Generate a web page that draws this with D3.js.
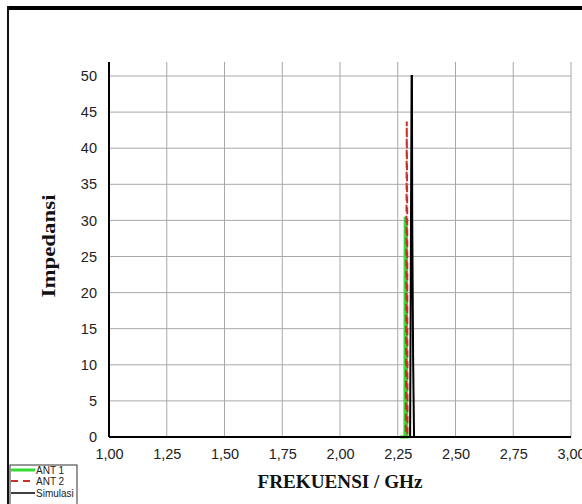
<!DOCTYPE html>
<html>
<head>
<meta charset="utf-8">
<script src="https://cdn.jsdelivr.net/npm/d3@7"></script>
<style>
  html, body { margin: 0; padding: 0; background: #fff; }
  svg { display: block; }
</style>
</head>
<body>
<svg id="chart" width="582" height="504"></svg>
<script>
// ---- data ----
const xTicks = [1.00, 1.25, 1.50, 1.75, 2.00, 2.25, 2.50, 2.75, 3.00];
const yTicks = [0, 5, 10, 15, 20, 25, 30, 35, 40, 45, 50];

const ant1Freq = [2.260, 2.281, 2.282, 2.287, 2.289, 2.300];
const ant1Val  = [0, 0, 30.5, 29.5, 0, 0];

const ant2Freq = [2.260, 2.285, 2.289, 2.291, 2.292, 2.300];
const ant2Val  = [0, 0, 43.7, 30, 0, 0];

const simFreq = [2.260, 2.3035, 2.310, 2.3115, 2.3125, 2.3165, 2.3205, 2.340];
const simVal  = [0, 0, 50, 50, 31, 11, 0, 0];

const seriesNames = ["ANT 1", "ANT 2", "Simulasi"];

// ---- layout ----
const svg = d3.select("#chart");
const pLeft = 109, pRight = 571, pTop = 76, pBottom = 437, gridTop = 62;

const x = d3.scaleLinear().domain([1, 3]).range([pLeft, pRight]);
const y = d3.scaleLinear().domain([0, 50]).range([pBottom, pTop]);
const fmt = v => d3.format(".2f")(v).replace(".", ",");

// outer frame
svg.append("line").attr("x1", 7).attr("x2", 582).attr("y1", 8).attr("y2", 8)
  .attr("stroke", "#000").attr("stroke-width", 4);
svg.append("line").attr("x1", 8).attr("x2", 8).attr("y1", 6).attr("y2", 504)
  .attr("stroke", "#111").attr("stroke-width", 2);

// grid
const grid = svg.append("g");
grid.selectAll("line.v").data(xTicks.slice(1)).join("line")
  .attr("x1", d => x(d)).attr("x2", d => x(d))
  .attr("y1", gridTop).attr("y2", pBottom)
  .attr("stroke", "#a8a8a8").attr("stroke-width", 1);
grid.selectAll("line.h").data(yTicks.slice(1)).join("line")
  .attr("x1", pLeft).attr("x2", pRight)
  .attr("y1", d => y(d)).attr("y2", d => y(d))
  .attr("stroke", "#a8a8a8").attr("stroke-width", 1);

// series
const line = d3.line().x(d => x(d[0])).y(d => y(d[1]));
const zip = (a, b) => a.map((v, i) => [v, b[i]]);

svg.append("path").datum(zip(ant1Freq, ant1Val)).attr("d", line)
  .attr("fill", "none").attr("stroke", "#33dd33").attr("stroke-width", 3);
svg.append("path").datum(zip(ant2Freq, ant2Val)).attr("d", line)
  .attr("fill", "none").attr("stroke", "#c8302c").attr("stroke-width", 2)
  .attr("stroke-dasharray", "7,4");
svg.append("path").datum(zip(simFreq, simVal)).attr("d", line)
  .attr("fill", "none").attr("stroke", "#000").attr("stroke-width", 2);

// axes
const xAxis = svg.append("g").attr("transform", `translate(0,${pBottom})`)
  .call(d3.axisBottom(x).tickValues(xTicks).tickFormat(fmt).tickSize(0).tickPadding(12));
xAxis.select(".domain").attr("stroke", "#000").attr("stroke-width", 2)
  .attr("d", `M${pLeft},0H${pRight}`);
xAxis.selectAll("text").attr("font-family", "Liberation Sans, Arial, sans-serif")
  .attr("font-size", 14.5).attr("fill", "#222");

const yAxis = svg.append("g").attr("transform", `translate(${pLeft},0)`)
  .call(d3.axisLeft(y).tickValues(yTicks).tickSize(0).tickPadding(12));
yAxis.select(".domain").attr("stroke", "#000").attr("stroke-width", 2)
  .attr("d", `M0,${gridTop}V${pBottom}`);
yAxis.selectAll("text").attr("font-family", "Liberation Sans, Arial, sans-serif")
  .attr("font-size", 14.5).attr("fill", "#222");

// axis titles
svg.append("text").attr("x", 340).attr("y", 488).attr("text-anchor", "middle")
  .attr("font-family", "Liberation Serif, Times New Roman, serif")
  .attr("font-weight", "bold").attr("font-size", 19)
  .attr("textLength", 165).attr("lengthAdjust", "spacingAndGlyphs")
  .attr("fill", "#111").text("FREKUENSI / GHz");
svg.append("text").attr("transform", "translate(55,246) rotate(-90)")
  .attr("text-anchor", "middle")
  .attr("font-family", "Liberation Serif, Times New Roman, serif")
  .attr("font-weight", "bold").attr("font-size", 19)
  .attr("textLength", 103).attr("lengthAdjust", "spacingAndGlyphs")
  .attr("fill", "#111").text("Impedansi");

// legend
const lg = svg.append("g");
lg.append("rect").attr("x", 10).attr("y", 465).attr("width", 67).attr("height", 45)
  .attr("fill", "#fff").attr("stroke", "#333").attr("stroke-width", 1);
const styles = [
  { stroke: "#33dd33", w: 3, dash: null },
  { stroke: "#c8302c", w: 2, dash: "7,5" },
  { stroke: "#000", w: 1.5, dash: null }
];
const ly = [470, 481, 493];
seriesNames.forEach((name, i) => {
  lg.append("line").attr("x1", 11).attr("x2", 35).attr("y1", ly[i]).attr("y2", ly[i])
    .attr("stroke", styles[i].stroke).attr("stroke-width", styles[i].w)
    .attr("stroke-dasharray", styles[i].dash);
  lg.append("text").attr("x", 36).attr("y", ly[i] + 3.5)
    .attr("font-family", "Liberation Sans, Arial, sans-serif").attr("font-size", 10)
    .attr("fill", "#222").text(name);
});
</script>
</body>
</html>
